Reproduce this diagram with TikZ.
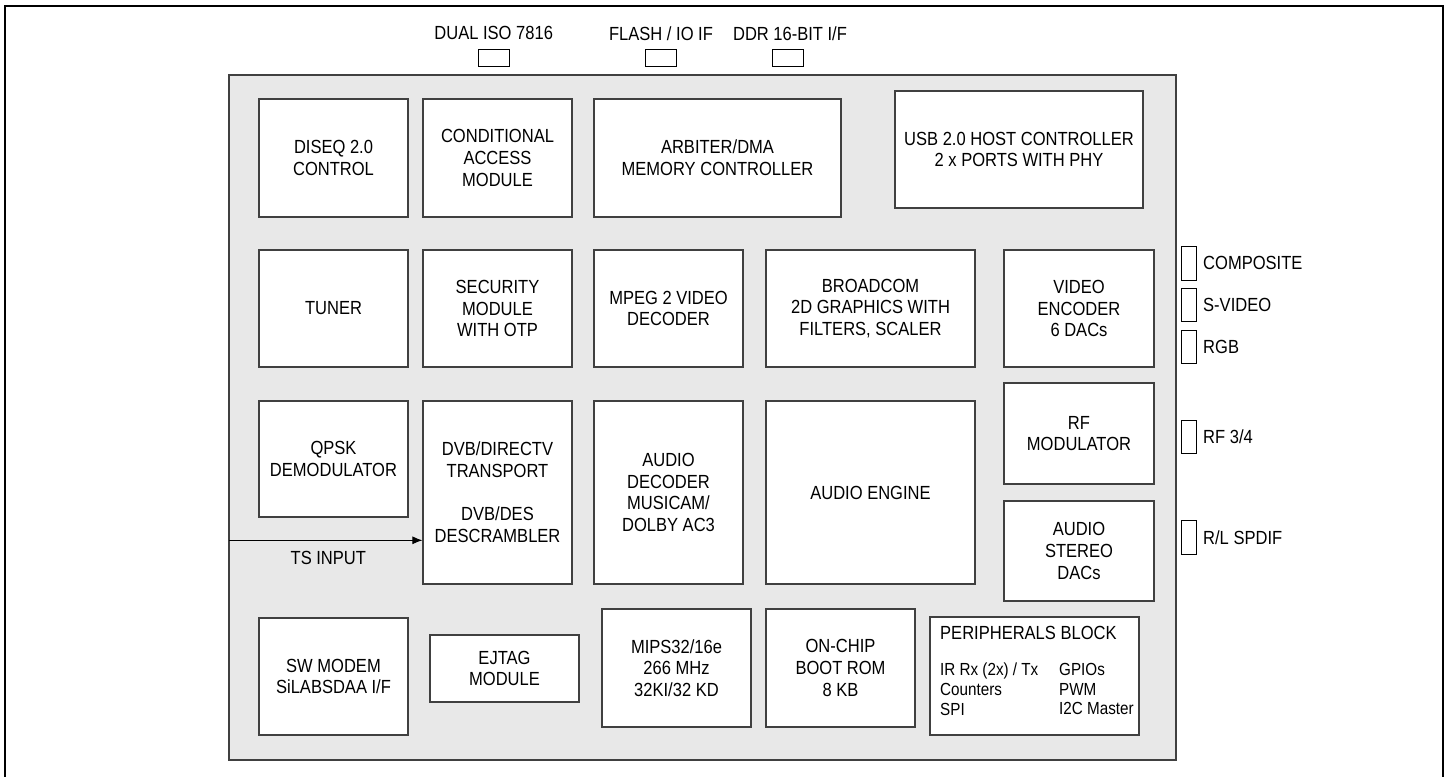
\documentclass[tikz,border=0pt]{standalone}
\usepackage{fontspec}
\setmainfont{Liberation Sans}[FakeStretch=0.87]
\usetikzlibrary{arrows.meta,positioning}
\definecolor{chipgray}{RGB}{232,232,232}
\definecolor{edgegray}{RGB}{64,64,64}

\begin{document}
\begin{tikzpicture}[x=1pt,y=-1pt,
    blk/.style={draw=edgegray, line width=1.1pt, fill=white, align=center, inner sep=0pt,
      font=\fontsize{19}{21.7}\selectfont},
    port/.style={draw=black, line width=0.9pt, fill=white, inner sep=0pt},
    lbl/.style={font=\fontsize{19}{21.7}\selectfont, inner sep=0pt}]
        \useasboundingbox (0,0) rectangle (1447,776);
        % Bingkai luar
        \draw[line width=2pt] (5,6) rectangle (1443,779);
        % Chip
        \draw[edgegray, line width=1.5pt, fill=chipgray] (229,75) rectangle (1176,760);
        % Port atas
        \node[port, minimum width=31pt, minimum height=17.5pt] (iso) at (493.7,58) {};
        \node[port, minimum width=31pt, minimum height=17.5pt] (flash) at (661.3,58) {};
        \node[port, minimum width=31pt, minimum height=17.5pt] (ddr) at (788,58) {};
        \node[lbl] (isotxt) at (493.7,33.3) {DUAL ISO 7816};
        \node[lbl] (flashtxt) at (661,33.3) {FLASH / IO IF};
        \node[lbl] (ddrtxt) at (790,33.3) {DDR 16-BIT I/F};
        % Baris 1
        \node[blk, minimum width=149pt, minimum height=118pt] (diseq) at (333.5,158) {DISEQ 2.0\\CONTROL};
        \node[blk, minimum width=149pt, minimum height=118pt] (condacc) at (497.5,158) {CONDITIONAL\\ACCESS\\MODULE};
        \node[blk, minimum width=247pt, minimum height=118pt] (arbiter) at (717.5,158) {ARBITER/DMA\\MEMORY CONTROLLER};
        \node[blk, minimum width=248pt, minimum height=117pt] (usb) at (1019,149.5) {USB 2.0 HOST CONTROLLER\\2 x PORTS WITH PHY};
        % Baris 2
        \node[blk, minimum width=149pt, minimum height=117pt] (tuner) at (333.5,308.5) {TUNER};
        \node[blk, minimum width=149pt, minimum height=117pt] (security) at (497.5,308.5) {SECURITY\\MODULE\\WITH OTP};
        \node[blk, minimum width=149pt, minimum height=117pt] (mpeg) at (668.5,308.5) {MPEG 2 VIDEO\\DECODER};
        \node[blk, minimum width=209pt, minimum height=117pt] (gfx) at (870.5,308.5) {BROADCOM\\2D GRAPHICS WITH\\FILTERS, SCALER};
        \node[blk, minimum width=150pt, minimum height=117pt] (videnc) at (1079,308.5) {VIDEO\\ENCODER\\6 DACs};
        % Baris 3
        \node[blk, minimum width=149pt, minimum height=116pt] (qpsk) at (333.5,459) {QPSK\\DEMODULATOR};
        \node[blk, minimum width=149pt, minimum height=183pt] (dvb) at (497.5,492.5) {DVB/DIRECTV\\TRANSPORT\\[21.7pt]DVB/DES\\DESCRAMBLER};
        \node[blk, minimum width=149pt, minimum height=183pt] (auddec) at (668.5,492.5) {AUDIO\\DECODER\\MUSICAM/\\DOLBY AC3};
        \node[blk, minimum width=209pt, minimum height=183pt] (audeng) at (870.5,492.5) {AUDIO ENGINE};
        \node[blk, minimum width=150pt, minimum height=101pt] (rfmod) at (1079,433.5) {RF\\MODULATOR};
        \node[blk, minimum width=150pt, minimum height=100pt] (auddac) at (1079,551) {AUDIO\\STEREO\\DACs};
        % Baris 4
        \node[blk, minimum width=149pt, minimum height=117pt] (modem) at (333.5,676.5) {SW MODEM\\SiLABSDAA I/F};
        \node[blk, minimum width=149pt, minimum height=67pt] (ejtag) at (504.5,668.5) {EJTAG\\MODULE};
        \node[blk, minimum width=149pt, minimum height=118pt] (mips) at (676.5,668) {MIPS32/16e\\266 MHz\\32KI/32 KD};
        \node[blk, minimum width=149pt, minimum height=118pt] (bootrom) at (840.5,668) {ON-CHIP\\BOOT ROM\\8 KB};
        \node[blk, minimum width=209pt, minimum height=118pt] (periph) at (1034.5,676) {};
        \node[lbl, anchor=west] (periphtxt) at (940,633.3) {PERIPHERALS BLOCK};
        \node[lbl, anchor=north west, align=left, font=\fontsize{17.5}{19.7}\selectfont] (periphl) at (940,663) {IR Rx (2x) / Tx\\Counters\\SPI};
        \node[lbl, anchor=north west, align=left, font=\fontsize{17.5}{19.7}\selectfont] (periphr) at (1059,663) {GPIOs\\PWM\\I2C Master};
        % Port kanan
        \node[port, minimum width=15pt, minimum height=33.3pt] (comp) at (1188.5,263.3) {};
        \node[port, minimum width=15pt, minimum height=33.3pt] (svid) at (1188.5,305) {};
        \node[port, minimum width=15pt, minimum height=33.3pt] (rgb) at (1188.5,346.7) {};
        \node[port, minimum width=15pt, minimum height=33.3pt] (rf) at (1188.5,436.7) {};
        \node[port, minimum width=15pt, minimum height=33.3pt] (spdif) at (1188.5,537.3) {};
        \node[lbl, anchor=west] (comptxt) at (1203,263.3) {COMPOSITE};
        \node[lbl, anchor=west] (svidtxt) at (1203,305) {S-VIDEO};
        \node[lbl, anchor=west] (rgbtxt) at (1203,346.7) {RGB};
        \node[lbl, anchor=west] (rftxt) at (1203,436.7) {RF 3/4};
        \node[lbl, anchor=west] (spdiftxt) at (1203,537.3) {R/L SPDIF};
        % Masukan TS
        \coordinate (tsin) at (229,540.3);
        \draw[-{Latex[length=10pt,width=8pt]}, line width=1pt] (tsin) -- (tsin -| dvb.west);
        \node[lbl] (tstxt) at (328.3,557.7) {TS INPUT};
      \end{tikzpicture}
\end{document}
